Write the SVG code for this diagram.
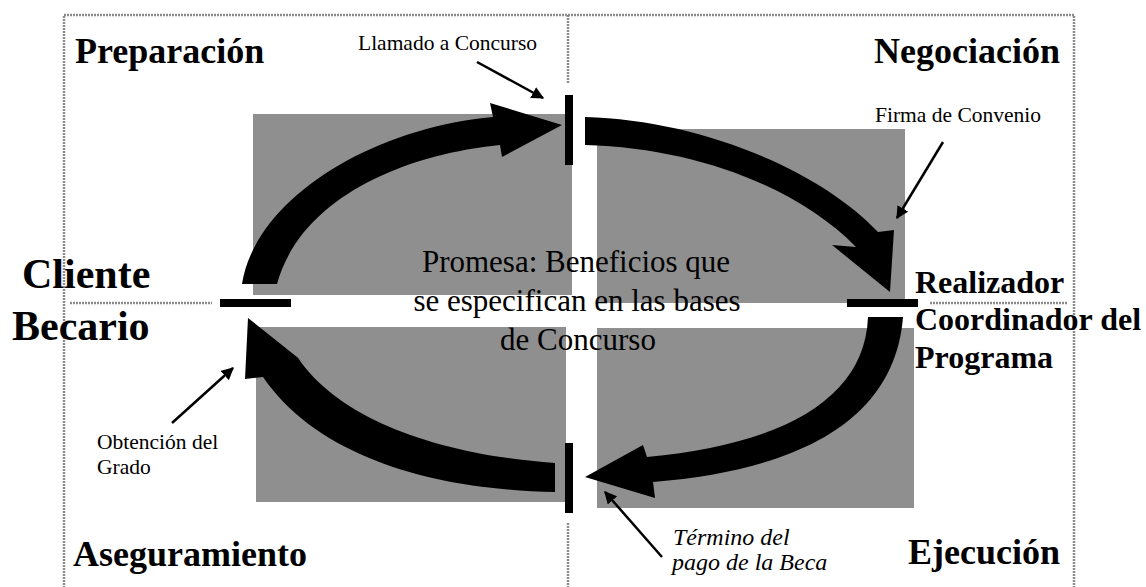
<svg xmlns="http://www.w3.org/2000/svg" width="1146" height="587" viewBox="0 0 1146 587">
<defs>
<style>
.frame{fill:none;stroke:#8c8c8c;stroke-width:2.5;stroke-dasharray:2 1}
.box{fill:#8f8f8f}
.bar{fill:#000}
.big{fill:#000}
.ptr{stroke:#000;stroke-width:2.5;fill:none}
.hd{font-family:"Liberation Serif","Times New Roman",serif;font-weight:bold;fill:#000}
.lb{font-family:"Liberation Serif","Times New Roman",serif;fill:#000}
</style>
<marker id="ah" viewBox="0 0 10 10" refX="9" refY="5" markerWidth="5" markerHeight="5" markerUnits="strokeWidth" orient="auto">
<path d="M0,0 L10,5 L0,10 Z" fill="#000"/>
</marker>
</defs>
<rect width="1146" height="587" fill="#fff"/>
<g id="frame">
<path class="frame" d="M64,600 L64,15 L1074,15 L1074,600"/>
<path class="frame" d="M568,15 L568,83 M568,523 L568,600 M70,303 L212,303 M930,303 L1068,303"/>
</g>
<g id="quadrants">
<rect class="box" x="253" y="114" width="319" height="181"/>
<rect class="box" x="597" y="129" width="308" height="174"/>
<rect class="box" x="256" y="327" width="310" height="175"/>
<rect class="box" x="597" y="328" width="317" height="180"/>
</g>
<g id="promise">
<text class="lb" font-size="31" text-anchor="middle"><tspan x="576" y="272">Promesa: Beneficios que</tspan><tspan x="577" y="311">se especifican en las bases</tspan><tspan x="578" y="350">de Concurso</tspan></text>
</g>
<g id="connectors">
<path class="big" d="M242,284 C255,200 370,128 493,117 L490,103 L562,125 L502,157 L500,145 C400,155 300,200 277,284 Z"/>
<path class="big" d="M585,117 C700,120 820,170 878,232 L894,230 L890,292 L832,245 L856,247 C800,190 700,148 585,145 Z"/>
<path class="big" d="M868,317 C865,400 780,445 647,457 L643,445 L585,477 L655,498 L653,482 C800,470 895,420 903,317 Z"/>
<path class="big" d="M555,463 C440,455 340,420 298,358 L307,365 L248,318 L245,379 L263,377 C320,460 440,490 555,492 Z"/>
<line class="ptr" x1="477" y1="62" x2="543" y2="98" marker-end="url(#ah)"/>
<line class="ptr" x1="943" y1="142" x2="897" y2="218" marker-end="url(#ah)"/>
<line class="ptr" x1="172" y1="423" x2="233" y2="368" marker-end="url(#ah)"/>
<line class="ptr" x1="662" y1="557" x2="605" y2="492" marker-end="url(#ah)"/>
</g>
<g id="milestone-llamado">
<rect class="bar" x="565" y="95" width="8" height="70"/>
<text class="lb" font-size="21.5" x="358" y="50">Llamado a Concurso</text>
</g>
<g id="milestone-firma">
<rect class="bar" x="847" y="299" width="71" height="8"/>
<text class="lb" font-size="21.5" x="875" y="122">Firma de Convenio</text>
</g>
<g id="milestone-termino">
<rect class="bar" x="565" y="443" width="8" height="70"/>
<text class="lb" font-size="24" font-style="italic"><tspan x="673" y="545">Término del</tspan><tspan x="672" y="570">pago de la Beca</tspan></text>
</g>
<g id="milestone-obtencion">
<rect class="bar" x="220" y="299" width="71" height="8"/>
<text class="lb" font-size="21.5"><tspan x="97" y="449">Obtención del</tspan><tspan x="97" y="474">Grado</tspan></text>
</g>
<g id="phase-preparacion"><text class="hd" font-size="36" x="75" y="63">Preparación</text></g>
<g id="phase-negociacion"><text class="hd" font-size="36" x="1060" y="63" text-anchor="end">Negociación</text></g>
<g id="phase-aseguramiento"><text class="hd" font-size="36" x="73" y="566">Aseguramiento</text></g>
<g id="phase-ejecucion"><text class="hd" font-size="36" x="1060" y="564" text-anchor="end">Ejecución</text></g>
<g id="role-cliente"><text class="hd" font-size="42"><tspan x="22" y="288">Cliente</tspan><tspan x="12" y="340">Becario</tspan></text></g>
<g id="role-realizador"><text class="hd" font-size="32"><tspan x="915" y="293">Realizador</tspan><tspan x="915" y="330">Coordinador del</tspan><tspan x="915" y="368">Programa</tspan></text></g>
</svg>
